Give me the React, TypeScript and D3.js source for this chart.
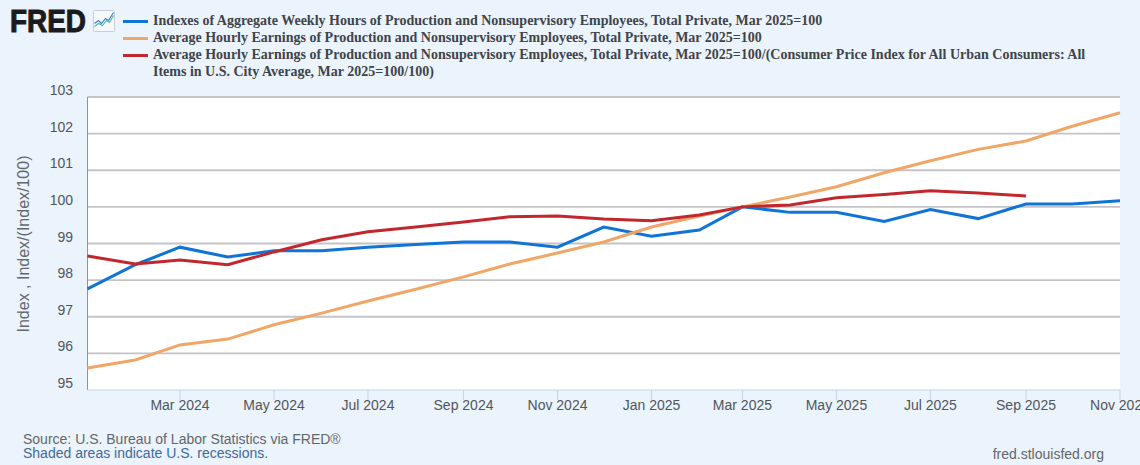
import React from "react";
import * as d3 from "d3";

const months = ["2024-01","2024-02","2024-03","2024-04","2024-05","2024-06","2024-07","2024-08","2024-09","2024-10","2024-11","2024-12","2025-01","2025-02","2025-03","2025-04","2025-05","2025-06","2025-07","2025-08","2025-09","2025-10","2025-11"];
const hoursValues = [97.76,98.42,98.9,98.63,98.8,98.8,98.9,98.97,99.04,99.04,98.9,99.45,99.2,99.37,100,99.85,99.85,99.6,99.93,99.68,100.08,100.08,100.17];
const earningsValues = [95.6,95.82,96.23,96.39,96.78,97.1,97.43,97.75,98.09,98.44,98.74,99.04,99.45,99.75,100,100.27,100.55,100.93,101.26,101.57,101.8,102.2,102.57];
const realValues = [98.66,98.44,98.55,98.42,98.77,99.1,99.32,99.45,99.59,99.73,99.75,99.67,99.62,99.78,100,100.05,100.25,100.34,100.44,100.38,100.3];
const yTicks = [95,96,97,98,99,100,101,102,103];
const xTickMonths = ["2024-03","2024-05","2024-07","2024-09","2024-11","2025-01","2025-03","2025-05","2025-07","2025-09","2025-11"];
const legendRows = [
  { color: "#0f74d6", lines: ["Indexes of Aggregate Weekly Hours of Production and Nonsupervisory Employees, Total Private, Mar 2025=100"] },
  { color: "#efa667", lines: ["Average Hourly Earnings of Production and Nonsupervisory Employees, Total Private, Mar 2025=100"] },
  { color: "#c1272d", lines: ["Average Hourly Earnings of Production and Nonsupervisory Employees, Total Private, Mar 2025=100/(Consumer Price Index for All Urban Consumers: All", "Items in U.S. City Average, Mar 2025=100/100)"] },
];
const iconBlue: [number, number][] = [[0,12],[4,9],[7,12],[11,7],[14,9],[19,1]];
const iconGreen: [number, number][] = [[0,15],[4,12],[8,14],[12,9],[15,11],[19,4]];

const parse = d3.utcParse("%Y-%m");
const fmt = d3.utcFormat("%b %Y");
const bg = "#ebf3fc";
const sans = "'Liberation Sans', Arial, sans-serif";

export default function App() {
  const x = d3.scaleUtc().domain([parse("2024-01")!, parse("2025-11")!]).range([87.5, 1120]);
  const y = d3.scaleLinear().domain([95, 103]).range([390, 97]);
  const line = d3.line<number>().x((_, i) => x(parse(months[i])!)).y((d) => y(d));
  const iconPath = (a: [number, number][]) => d3.line()(a.map(([px, py]) => [94.5 + px, 11.5 + py] as [number, number]))!;
  return (
    <svg width={1140} height={465} style={{ position: "fixed", left: 0, top: 0, display: "block" }}>
      <rect width={1140} height={465} fill={bg} />
      <text x={10} y={32} fontFamily={sans} fontWeight="bold" fontSize={30.5} fill="#1b1b1f" textLength={76} lengthAdjust="spacingAndGlyphs" stroke="#1b1b1f" strokeWidth={1}>FRED</text>
      <rect x={93.5} y={10.5} width={21} height={21} fill="#f6f9fc" stroke="#c9ced4" rx={1} />
      <path d={iconPath(iconBlue)} fill="none" stroke="#3b83c9" strokeWidth={1.2} />
      <path d={iconPath(iconGreen)} fill="none" stroke="#5bb5a5" strokeWidth={1.2} />

      {(() => {
        let row = 0;
        return legendRows.map((r, i) => {
          const start = row;
          row += r.lines.length;
          return (
            <g key={i}>
              <line x1={123} x2={148} y1={21.5 + start * 17} y2={21.5 + start * 17} stroke={r.color} strokeWidth={3} />
              {r.lines.map((t, j) => (
                <text key={j} x={153} y={25 + (start + j) * 17} fontFamily="'Liberation Serif', serif" fontWeight="bold" fontSize={14} fill="#3f444a">{t}</text>
              ))}
            </g>
          );
        });
      })()}

      <rect x={87.5} y={97} width={1032.5} height={293} fill="#fff" />
      {yTicks.slice(1).map((t) => (
        <line key={t} x1={87.5} x2={1120} y1={y(t)} y2={y(t)} stroke="#c4c4c8" strokeWidth={1.8} />
      ))}
      <line x1={87.5} x2={87.5} y1={97} y2={390} stroke="#8d949b" strokeWidth={1} />
      <line x1={87.5} x2={1120} y1={390} y2={390} stroke="#c9d3df" strokeWidth={1} />
      {yTicks.map((t) => (
        <text key={t} x={73} y={y(t) - 2} textAnchor="end" fontFamily={sans} fontSize={14} fill="#51565c">{t}</text>
      ))}
      {xTickMonths.map((m) => {
        const px = x(parse(m)!);
        return (
          <g key={m}>
            <line x1={px} x2={px} y1={390} y2={400} stroke="#c9d3df" strokeWidth={1} />
            <text x={px} y={410} textAnchor="middle" fontFamily={sans} fontSize={14} fill="#51565c">{fmt(parse(m)!)}</text>
          </g>
        );
      })}
      <text transform="translate(29,244) rotate(-90)" textAnchor="middle" fontFamily={sans} fontSize={16} fill="#62676d">Index , Index/(Index/100)</text>

      <path d={line(hoursValues)!} fill="none" stroke="#0f74d6" strokeWidth={3} />
      <path d={line(earningsValues)!} fill="none" stroke="#efa667" strokeWidth={3} />
      <path d={line(realValues)!} fill="none" stroke="#c1272d" strokeWidth={3} />

      <text x={23} y={444} fontFamily={sans} fontSize={14} fill="#62676d">Source: U.S. Bureau of Labor Statistics via FRED®</text>
      <text x={23} y={458} fontFamily={sans} fontSize={14} fill="#3f6a99">Shaded areas indicate U.S. recessions.</text>
      <text x={1104} y={459} textAnchor="end" fontFamily={sans} fontSize={14} fill="#62676d">fred.stlouisfed.org</text>
    </svg>
  );
}
